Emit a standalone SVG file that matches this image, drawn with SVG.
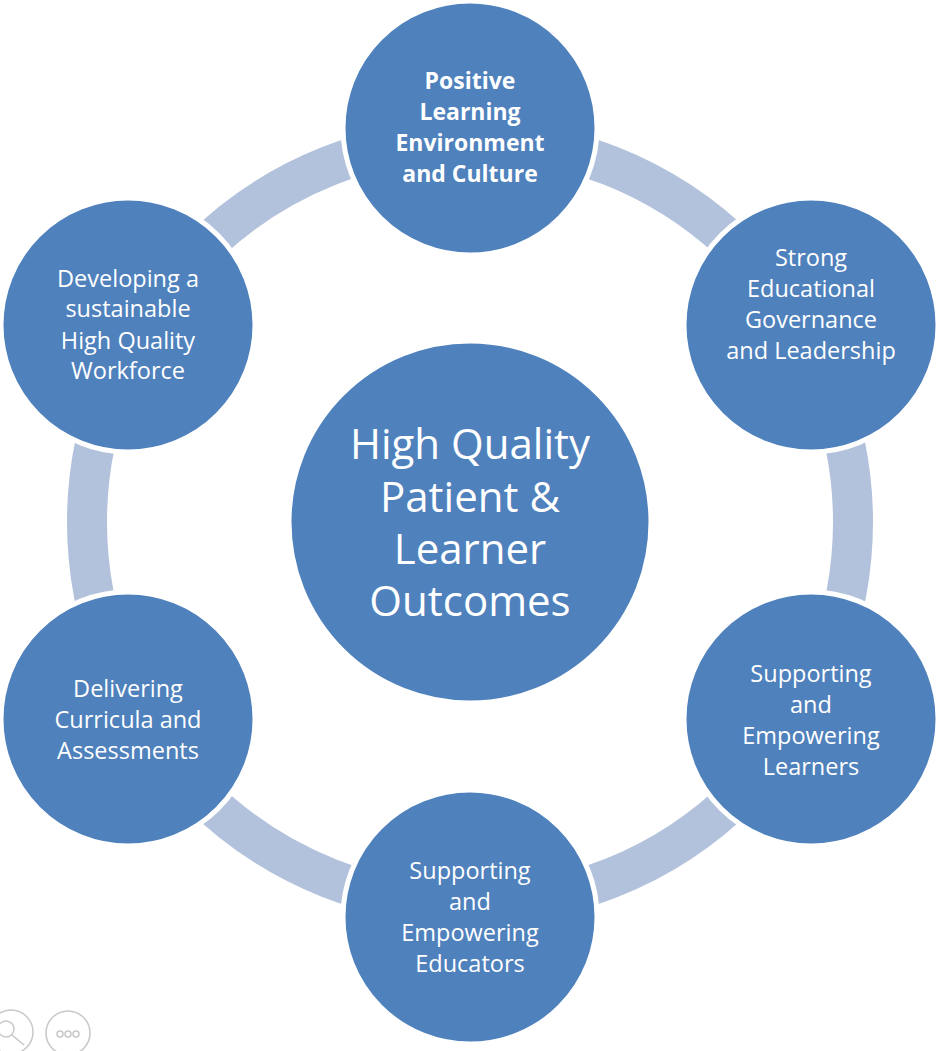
<svg xmlns="http://www.w3.org/2000/svg" width="947" height="1051" viewBox="0 0 947 1051">
<style>
.n{fill:#4f81bd;stroke:#fff;stroke-width:5}
.t{fill:#fff;font-family:"Open Sans","Liberation Sans",sans-serif;font-size:23.5px;text-anchor:middle}
.b{font-weight:bold;font-size:23px}
.c{font-size:42px}
.ic{fill:none;stroke:#c8c8c8;stroke-width:1.5}
</style>
<rect width="947" height="1051" fill="#fff"/>
<g id="connectors">
<circle cx="470" cy="522" r="383" fill="none" stroke="#b3c2dc" stroke-width="40"/>
</g>
<g id="center">
<circle class="n" cx="470" cy="522" r="181"/>
<text class="t c" x="470" y="459">High Quality</text>
<text class="t c" x="470" y="512">Patient &amp;</text>
<text class="t c" x="470" y="564">Learner</text>
<text class="t c" x="470" y="616">Outcomes</text>
</g>
<g id="n-top">
<circle class="n" cx="470" cy="128" r="127"/>
<text class="t b" x="470" y="89">Positive</text>
<text class="t b" x="470" y="120">Learning</text>
<text class="t b" x="470" y="151">Environment</text>
<text class="t b" x="470" y="182">and Culture</text>
</g>
<g id="n-ur">
<circle class="n" cx="811" cy="325" r="127"/>
<text class="t" x="811" y="266">Strong</text>
<text class="t" x="811" y="297">Educational</text>
<text class="t" x="811" y="328">Governance</text>
<text class="t" x="811" y="359">and Leadership</text>
</g>
<g id="n-lr">
<circle class="n" cx="811" cy="719" r="127"/>
<text class="t" x="811" y="682">Supporting</text>
<text class="t" x="811" y="713">and</text>
<text class="t" x="811" y="744">Empowering</text>
<text class="t" x="811" y="775">Learners</text>
</g>
<g id="n-bottom">
<circle class="n" cx="470" cy="917" r="127"/>
<text class="t" x="470" y="879">Supporting</text>
<text class="t" x="470" y="910">and</text>
<text class="t" x="470" y="941">Empowering</text>
<text class="t" x="470" y="972">Educators</text>
</g>
<g id="n-ll">
<circle class="n" cx="128" cy="719" r="127"/>
<text class="t" x="128" y="697">Delivering</text>
<text class="t" x="128" y="728">Curricula and</text>
<text class="t" x="128" y="759">Assessments</text>
</g>
<g id="n-ul">
<circle class="n" cx="128" cy="325" r="127"/>
<text class="t" x="128" y="287">Developing a</text>
<text class="t" x="128" y="317">sustainable</text>
<text class="t" x="128" y="349">High Quality</text>
<text class="t" x="128" y="379">Workforce</text>
</g>
<g id="icons">
<circle class="ic" cx="11" cy="1032" r="22"/>
<circle class="ic" cx="6" cy="1029" r="8"/>
<line class="ic" x1="12" y1="1035" x2="24" y2="1045" stroke-width="2.5"/>
<circle class="ic" cx="68" cy="1033" r="22"/>
<circle class="ic" cx="60" cy="1034" r="3"/>
<circle class="ic" cx="68" cy="1034" r="3"/>
<circle class="ic" cx="76" cy="1034" r="3"/>
</g>
</svg>
